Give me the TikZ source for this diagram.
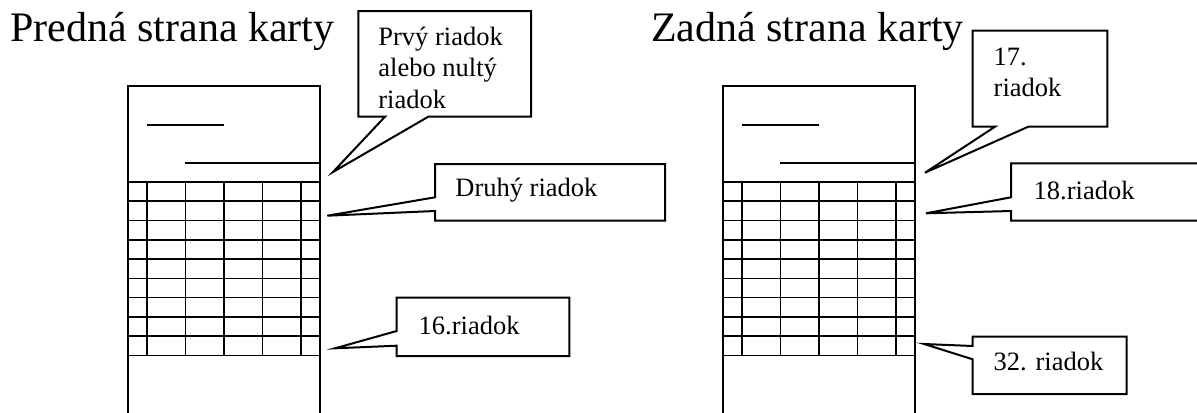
\documentclass[tikz,border=0pt]{standalone}
\usepackage{fontspec}
\setmainfont{Liberation Serif}

\tikzset{
  cardline/.style={line width=1pt},
  gridline/.style={line width=0.8pt},
  callbox/.style={draw, line width=1pt, line join=miter},
  calltext/.style={anchor=base west, inner sep=0pt, align=left, font=\fontsize{13.25}{15.8}\selectfont},
  cardtitle/.style={anchor=base west, inner sep=0pt, font=\fontsize{21}{25}\selectfont}
}

\begin{document}
\begin{tikzpicture}[x=0.5pt,y=-0.5pt]
\useasboundingbox (0,0) rectangle (1197,412);

% titles
\node[cardtitle] (front) at (10,41.7) {Predná strana karty};
\node[cardtitle] (back) at (650.7,41.7) {Zadná strana karty};

% both cards
\foreach \dx in {0,595} {
  \begin{scope}[shift={(\dx,0)}]
    \draw[cardline] (127.7,420) -- (127.7,86) -- (320,86) -- (320,420);
    \draw[cardline] (146.7,124.7) -- (224.3,124.7);
    \draw[cardline] (185.3,163.3) -- (320,163.3);
    \foreach \k in {0,...,9}
      \draw[gridline] (127.7,{182+19.26*\k}) -- (320,{182+19.26*\k});
    \foreach \x in {147,185.5,224,262.5,301}
      \draw[gridline] (\x,182) -- (\x,355.3);
  \end{scope}
}

% tips of the callouts
\coordinate (tip1) at (333,172);
\coordinate (tip2) at (327.3,215.7);
\coordinate (tip3) at (335,348.3);
\coordinate (tip4) at (925,172.7);
\coordinate (tip5) at (926,213.3);
\coordinate (tip6) at (924,344);

% front side callouts (multi-line text sits on its last baseline)
\draw[callbox] (358.3,11) -- (531,11) -- (531,116.7) -- (428.3,116.7) -- (tip1) -- (385,116.7) -- (358.3,116.7) -- cycle;
\node[calltext] (t1) at (378,108.3) {Prvý riadok\\alebo nultý\\riadok};

\draw[callbox] (435,164) -- (665,164) -- (665,220.7) -- (435,220.7) -- (435,211) -- (tip2) -- (435,197.3) -- cycle;
\node[calltext] (t2) at (455,196.7) {Druhý riadok};

\draw[callbox] (396.7,297.7) -- (569.3,297.7) -- (569.3,356) -- (396.7,356) -- (396.7,345.7) -- (tip3) -- (396.7,331) -- cycle;
\node[calltext] (t3) at (418.3,334) {16.riadok};

% back side callouts
\draw[callbox] (972.7,30.7) -- (1107.3,30.7) -- (1107.3,126.7) -- (1028.3,126.7) -- (tip4) -- (995,126.7) -- (972.7,126.7) -- cycle;
\node[calltext] (t4) at (993.3,96.7) {17.\\riadok};

\draw[callbox] (1011,163.3) -- (1215,163.3) -- (1215,220.7) -- (1011,220.7) -- (1011,211) -- (tip5) -- (1011,197.3) -- cycle;
\node[calltext] (t5) at (1033.3,199.3) {18.riadok};

\draw[callbox] (972.7,336.7) -- (1126.7,336.7) -- (1126.7,394) -- (972.7,394) -- (972.7,359.3) -- (tip6) -- (972.7,346) -- cycle;
\node[calltext] (t6) at (993.3,370.7) {32. riadok};
\end{tikzpicture}
\end{document}
